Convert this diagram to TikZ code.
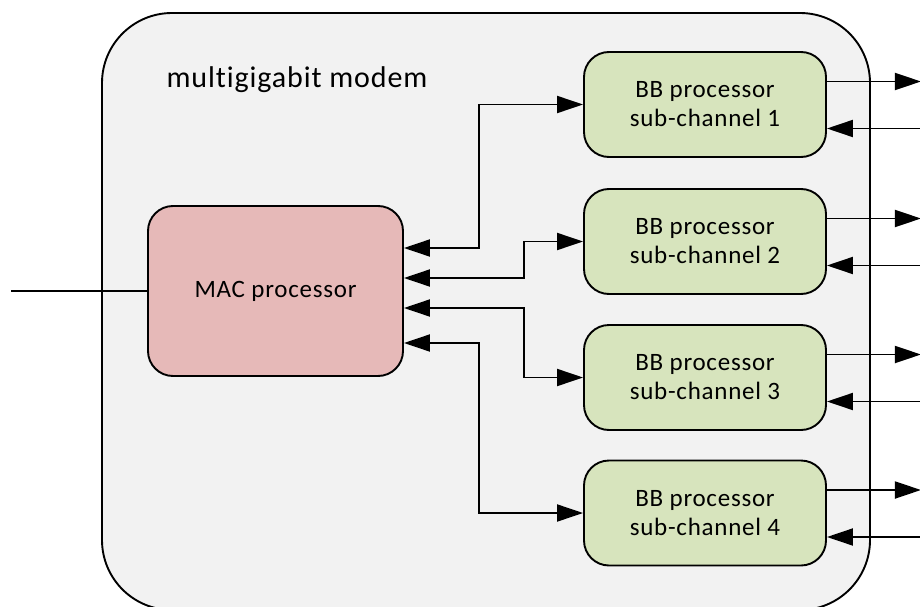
\documentclass[tikz,border=0pt]{standalone}
\usepackage{fontspec}
\setmainfont{Carlito}[Ligatures=NoCommon, LetterSpace=3]
\usetikzlibrary{arrows.meta}
\definecolor{cinzaclaro}{HTML}{F2F2F2}
\definecolor{rosaclaro}{HTML}{E6B9B8}
\definecolor{verdeclaro}{HTML}{D7E4BD}
\begin{document}
\begin{tikzpicture}[
  x=1pt, y=-1pt,
  every node/.style={draw, line width=1.9pt, rounded corners=25pt, align=center, font=\fontsize{25}{29}\selectfont},
  seta/.style={line width=1.9pt, -{Triangle[length=26pt,width=17pt]}},
  dupla/.style={line width=1.9pt, {Triangle[length=26pt,width=17pt]}-{Triangle[length=26pt,width=17pt]}}
]
\tikzset{
  caixa/.style={fill=cinzaclaro, rounded corners=70pt, minimum width=768pt, minimum height=597pt},
  rosa/.style={fill=rosaclaro, minimum width=255pt, minimum height=170pt},
  verde/.style={fill=verdeclaro, minimum width=242pt, minimum height=105pt}
}
\useasboundingbox (0,0) rectangle (920,607);
\clip (0,0) rectangle (920,607);
% caixa do modem (passa da borda de baixo)
\node[caixa] (modem) at (486,311.5) {};
\node[draw=none, anchor=base, font=\fontsize{30}{34}\selectfont] (titulo) at (297,88) {multigigabit modem};
\node[rosa] (mac) at (275.5,291) {MAC processor};
\foreach \i/\y in {1/104.5, 2/241.5, 3/377.5, 4/513}
  \node[verde] (bb\i) at (705,\y) {BB processor\\sub-channel \i};
% entrada do MAC
\coordinate (entrada) at (11,291);
\draw[line width=1.9pt] (entrada) -- (mac.west);
\foreach \i/\dy/\dx in {1/43/75, 2/13/120, 3/-17/120, 4/-52/75}
  \draw[dupla] ([yshift=\dy pt]mac.east) -- ++(\dx,0) |- (bb\i.west);
% saidas para a direita
\foreach \i in {1,...,4}{
  \path ([yshift=23pt]bb\i.east) ++(94,0) coordinate (saida\i);
  \path ([yshift=-24pt]bb\i.east) ++(94,0) coordinate (volta\i);
  \draw[seta] ([yshift=23pt]bb\i.east) -- (saida\i);
  \draw[seta] (volta\i) -- ([yshift=-24pt]bb\i.east);
}
\end{tikzpicture}
\end{document}
